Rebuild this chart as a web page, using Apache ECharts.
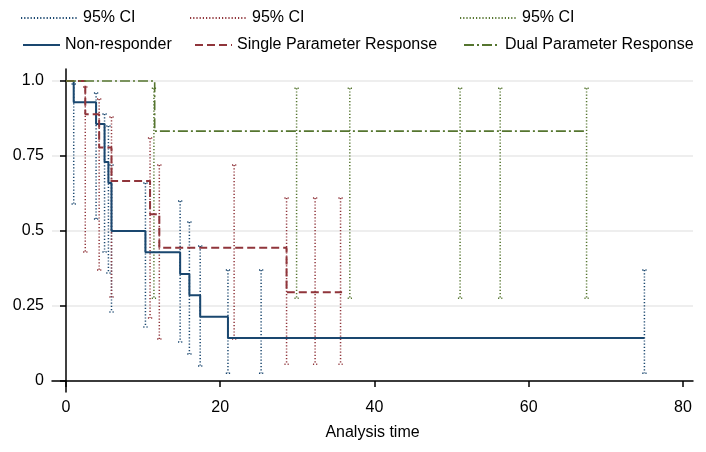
<!DOCTYPE html>
<html>
<head>
<meta charset="utf-8">
<script src="https://cdn.jsdelivr.net/npm/echarts@6/dist/echarts.min.js"></script>
<style>
html,body{margin:0;padding:0;background:#fff;}
#chart{width:706px;height:452px;}
</style>
</head>
<body>
<div id="chart"></div>
<script>
// Kaplan-Meier step curves (time, survival)
const timeNon = [0, 1.0, 3.9, 5.0, 5.5, 5.9, 10.3, 14.8, 16.0, 17.4, 21.0, 75.0];
const survNon = [1, 0.929, 0.857, 0.73, 0.66, 0.5, 0.429, 0.357, 0.286, 0.214, 0.143, 0.143];

const timeSingle = [0, 2.5, 4.3, 5.9, 10.9, 12.1, 28.6, 35.8];
const survSingle = [1, 0.889, 0.778, 0.667, 0.556, 0.444, 0.296, 0.296];

const timeDual = [0, 11.5, 67.3];
const survDual = [1, 0.833, 0.833];

// 95% CI spikes
const ciNonTime = [1.0, 3.9, 5.0, 5.5, 5.9, 10.3, 14.8, 16.0, 17.4, 21.0, 25.3, 75.0];
const ciNonLo   = [0.59, 0.54, 0.43, 0.36, 0.23, 0.18, 0.13, 0.09, 0.05, 0.026, 0.026, 0.026];
const ciNonHi   = [0.99, 0.96, 0.89, 0.85, 0.72, 0.66, 0.60, 0.53, 0.45, 0.37, 0.37, 0.37];

const ciSingleTime = [2.5, 4.3, 5.9, 10.9, 12.1, 21.8, 28.6, 32.3, 35.6];
const ciSingleLo   = [0.43, 0.37, 0.28, 0.21, 0.14, 0.14, 0.056, 0.056, 0.056];
const ciSingleHi   = [0.98, 0.94, 0.88, 0.81, 0.72, 0.72, 0.61, 0.61, 0.61];

const ciDualTime = [11.4, 29.9, 36.8, 51.1, 56.3, 67.5];
const ciDualLo   = [0.276, 0.276, 0.276, 0.276, 0.276, 0.276];
const ciDualHi   = [0.976, 0.976, 0.976, 0.976, 0.976, 0.976];

const xTicks = [0, 20, 40, 60, 80];
const yTicks = [0, 0.25, 0.5, 0.75, 1];
const yTickLabels = ['0', '0.25', '0.5', '0.75', '1.0'];

const seriesNames = ['Non-responder', 'Single Parameter Response', 'Dual Parameter Response'];
const ciNames = ['ciNon', 'ciSingle', 'ciDual'];

const C_BLUE = '#1a476f', C_RED = '#90353b', C_GREEN = '#55752f';
const FONT = '"Liberation Sans", Arial, Helvetica, sans-serif';

function zip(t, s) { return t.map((v, i) => [v, s[i]]); }
function spikes(t, lo, hi) {
  const c = 0.28, out = [];
  t.forEach((v, i) => {
    out.push([v - c, hi[i]], [v + c, hi[i]], ['-', '-']);
    out.push([v, hi[i]], [v, lo[i]], ['-', '-']);
    out.push([v - c, lo[i]], [v + c, lo[i]], ['-', '-']);
  });
  return out;
}

const dotted = [1.2, 2];
function ciSeries(name, color, t, lo, hi) {
  return {
    name: name, type: 'line', symbol: 'none', showSymbol: false,
    connectNulls: false, silent: true,
    lineStyle: { color: color, width: 1.5, type: dotted },
    itemStyle: { color: color },
    data: spikes(t, lo, hi), z: 2
  };
}
function kmSeries(name, color, t, s, type, width) {
  return {
    name: name, type: 'line', step: 'end', symbol: 'none', showSymbol: false,
    lineStyle: { color: color, width: width, type: type },
    itemStyle: { color: color },
    data: zip(t, s), z: 3
  };
}

function leg(name, left, top, w) {
  return {
    data: [name], left: left, top: top, padding: 0,
    itemWidth: w, itemHeight: 14, selectedMode: false,
    itemStyle: { opacity: 0 },
    formatter: n => (n.indexOf('ci') === 0 ? '95% CI' : n),
    textStyle: { fontSize: 16, color: '#000', fontFamily: FONT }
  };
}

const chart = echarts.init(document.getElementById('chart'));
chart.setOption({
  animation: false,
  backgroundColor: '#fff',
  legend: [
    leg(ciNames[0], 20, 10, 57),
    leg(ciNames[1], 189, 10, 57),
    leg(ciNames[2], 459, 10, 57),
    leg(seriesNames[0], 22, 37, 37),
    leg(seriesNames[1], 194, 37, 37),
    leg(seriesNames[2], 463, 37, 36)
  ],
  grid: { left: 52, right: 13, top: 69, bottom: 60, containLabel: false },
  xAxis: {
    type: 'value', min: -1.815, max: 81.3,
    name: 'Analysis time', nameLocation: 'middle', nameGap: 33,
    nameTextStyle: { fontSize: 16, color: '#000', fontFamily: FONT },
    axisLine: { show: true, lineStyle: { color: '#000', width: 1.5 } },
    axisTick: { show: true, length: 6, customValues: xTicks, lineStyle: { color: '#000', width: 1.5 } },
    axisLabel: { customValues: xTicks, fontSize: 16, color: '#000', fontFamily: FONT, margin: 8 },
    splitLine: { show: false }
  },
  yAxis: {
    type: 'value', min: -0.0367, max: 1.04,
    axisLine: { show: true, lineStyle: { color: '#000', width: 1.5 } },
    axisTick: { show: true, length: 6, customValues: yTicks, lineStyle: { color: '#000', width: 1.5 } },
    axisLabel: {
      customValues: yTicks, fontSize: 16, color: '#000', fontFamily: FONT, margin: 8,
      formatter: v => { const i = yTicks.findIndex(x => Math.abs(x - v) < 1e-9); return i >= 0 ? yTickLabels[i] : ''; }
    },
    splitLine: { show: true, lineStyle: { color: '#e8e8e8', width: 1.5 } }
  },
  series: [
    ciSeries(ciNames[0], C_BLUE, ciNonTime, ciNonLo, ciNonHi),
    ciSeries(ciNames[1], C_RED, ciSingleTime, ciSingleLo, ciSingleHi),
    ciSeries(ciNames[2], C_GREEN, ciDualTime, ciDualLo, ciDualHi),
    kmSeries(seriesNames[0], C_BLUE, timeNon, survNon, 'solid', 2),
    kmSeries(seriesNames[1], C_RED, timeSingle, survSingle, [8, 4], 2),
    kmSeries(seriesNames[2], C_GREEN, timeDual, survDual, [10, 3, 2, 3], 1.6)
  ]
});
</script>
</body>
</html>
